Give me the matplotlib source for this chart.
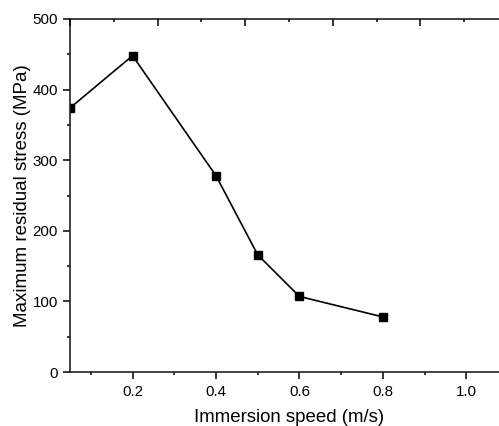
import matplotlib
matplotlib.use("Agg")
import matplotlib.pyplot as plt
from matplotlib.ticker import MultipleLocator

plt.rcParams['font.family'] = ['Liberation Sans', 'DejaVu Sans']

speed = [0.05, 0.2, 0.4, 0.5, 0.6, 0.8]
stress = [374, 448, 278, 166, 107, 78]
xticks = [0.2, 0.4, 0.6, 0.8, 1.0]
yticks = [0, 100, 200, 300, 400, 500]

fig = plt.figure(figsize=(4.99, 4.26), dpi=100)
ax = fig.add_axes([70/499, 1-372/426, (508-70)/499, (372-19)/426])

ax.plot(speed, stress, color='black', lw=1.2, marker='s', ms=6,
        markerfacecolor='black', markeredgecolor='black')

ax.set_xlim(0.05, 1.1)
ax.set_ylim(0, 500)
ax.set_xticks(xticks)
ax.set_xticklabels([f"{v:.1f}" for v in xticks])
ax.set_yticks(yticks)
ax.xaxis.set_minor_locator(MultipleLocator(0.1))
ax.yaxis.set_minor_locator(MultipleLocator(50))
ax.tick_params(axis='both', which='major', direction='out', length=4.7, width=1.1,
               labelsize=10.9, colors='black')
ax.tick_params(axis='x', which='major', pad=5)
ax.tick_params(axis='y', which='major', pad=4)
ax.tick_params(axis='both', which='minor', direction='out', length=2.3, width=1.1)
ax.tick_params(top=False, right=False)
for s in ax.spines.values():
    s.set_linewidth(1.2)
    s.set_color('#222222')
ax.spines['right'].set_visible(False)

ax.set_xlabel('Immersion speed (m/s)', fontsize=13.4, labelpad=6.5)
ax.set_ylabel('Maximum residual stress (MPa)', fontsize=13.5, labelpad=1)

top = ax.twiny()
top.set_xlim(0, 1.0)
top.xaxis.set_major_locator(MultipleLocator(0.2))
top.xaxis.set_minor_locator(MultipleLocator(0.1))
top.tick_params(axis='x', which='major', direction='in', length=4.7, width=1.1, labeltop=False)
top.tick_params(axis='x', which='minor', direction='in', length=2.3, width=1.1)
for s in top.spines.values():
    s.set_visible(False)

fig.savefig('out.png', dpi=100)
